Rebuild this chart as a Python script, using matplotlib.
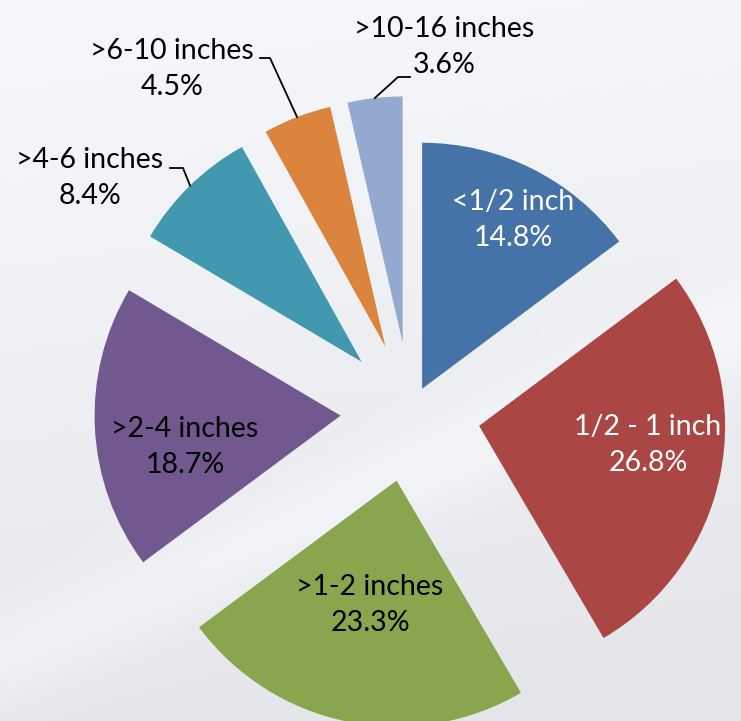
import numpy as np
import matplotlib.pyplot as plt

# share of pipes by diameter class
sizes = ['<1/2 inch', '1/2 - 1 inch', '>1-2 inches', '>2-4 inches',
         '>4-6 inches', '>6-10 inches', '>10-16 inches']
shares = [14.8, 26.8, 23.3, 18.7, 8.4, 4.5, 3.6]
pct_labels = ['14.8%', '26.8%', '23.3%', '18.7%', '8.4%', '4.5%', '3.6%']
colors = ['#4572A7', '#AA4643', '#89A54E', '#71588F', '#4198AF', '#DB843D', '#93A9CF']

W, H = 741, 721
plt.rcParams['font.family'] = ['Lato', 'DejaVu Sans']

fig = plt.figure(figsize=(W / 100, H / 100), dpi=100)
ax = fig.add_axes([0, 0, 1, 1])

# light background with a soft diagonal sheen
yy, xx = np.mgrid[0:H, 0:W]
base = 0.965 - 0.065 * (yy / H) + 0.01 * (1 - xx / W)
dist = (yy - (660 - 0.45 * xx)) / np.sqrt(1 + 0.45 ** 2)
base = base + 0.03 * np.exp(-(dist / 45) ** 2)
bg = np.dstack([base - 0.006, base - 0.002, base + 0.012]).clip(0, 1)
ax.imshow(bg, extent=(0, W, 0, H), origin='upper', zorder=0, aspect='auto')

R = 246
# explode is an absolute offset in data units here (pixels)
explode = [26, 70, 70, 70, 70, 70, 70]
wedges, _ = ax.pie(shares, colors=colors, explode=explode, startangle=90,
                   counterclock=False, radius=R, center=(410.5, 309),
                   wedgeprops=dict(linewidth=0))

fs = 20.5
ls = 1.48
# labels inside the big slices
inner = {0: ((513, 501), 'white'), 1: ((648, 276), 'white'),
         2: ((370, 116), 'black'), 3: ((185, 274), 'black')}
for i, (pos, col) in inner.items():
    ax.text(pos[0], pos[1], sizes[i] + '\n' + pct_labels[i], ha='center', va='center',
            color=col, fontsize=fs, linespacing=ls, zorder=5)

# labels outside the small slices with leader lines
outer = {4: ((90, 543), [(183, 553), (170, 553)]),
         5: ((172, 652), [(270, 663), (260, 663)]),
         6: ((444, 674), [(398, 644), (410, 644)])}
for i, (pos, elbow) in outer.items():
    w = wedges[i]
    mid = np.deg2rad((w.theta1 + w.theta2) / 2)
    x0 = w.center[0] + w.r * np.cos(mid)
    y0 = w.center[1] + w.r * np.sin(mid)
    ax.plot([x0] + [p[0] for p in elbow], [y0] + [p[1] for p in elbow],
            color='black', lw=1.3, zorder=4)
    ax.text(pos[0], pos[1], sizes[i] + '\n' + pct_labels[i], ha='center', va='center',
            color='black', fontsize=fs, linespacing=ls, zorder=5)

ax.set_xlim(0, W)
ax.set_ylim(0, H)
ax.set_aspect('auto')
ax.axis('off')

fig.savefig('out.png', dpi=100)
